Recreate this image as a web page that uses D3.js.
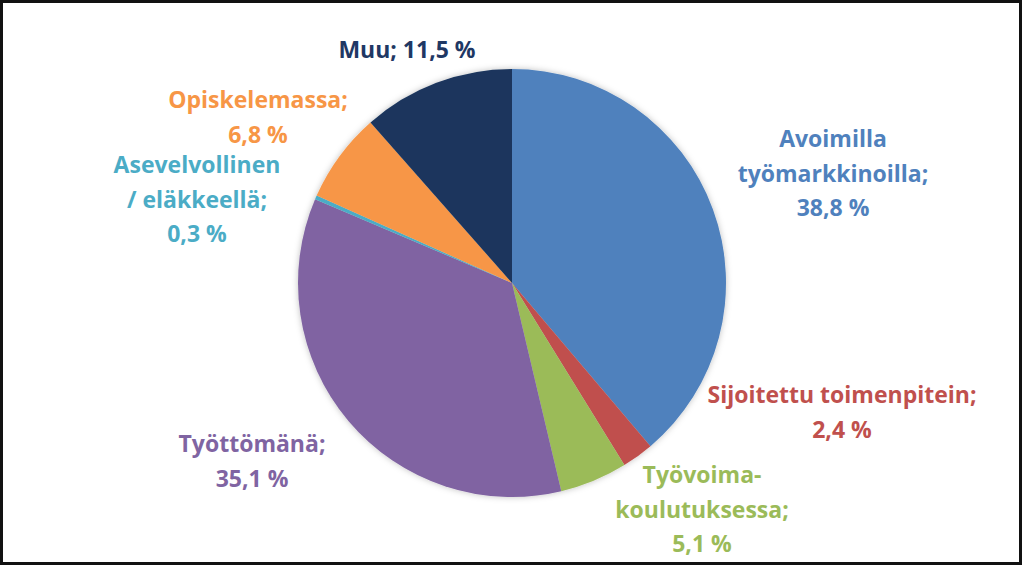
<!DOCTYPE html>
<html>
<head>
<meta charset="utf-8">
<script src="https://cdn.jsdelivr.net/npm/d3@7"></script>
<style>
  html, body { margin: 0; padding: 0; background: #fff; }
  svg { display: block; }
</style>
</head>
<body>
<div id="chart"></div>
<script>
// Pie chart of situation shares, drawn clockwise from 12 o'clock.

var categories = ["Avoimilla työmarkkinoilla", "Sijoitettu toimenpitein", "Työvoimakoulutuksessa",
	"Työttömänä", "Asevelvollinen / eläkkeellä", "Opiskelemassa", "Muu"];
var values = [38.8, 2.4, 5.1, 35.1, 0.3, 6.8, 11.5];
// Label text broken into lines as in the original.
var labelLines = [
	["Avoimilla", "työmarkkinoilla;", "38,8 %"],
	["Sijoitettu toimenpitein;", "2,4 %"],
	["Työvoima-", "koulutuksessa;", "5,1 %"],
	["Työttömänä;", "35,1 %"],
	["Asevelvollinen", "/ eläkkeellä;", "0,3 %"],
	["Opiskelemassa;", "6,8 %"],
	["Muu; 11,5 %"]
];
var sliceColors = ["#4f81bd", "#c0504d", "#9bbb59", "#8064a2", "#4bacc6", "#f79646", "#1b365d"];
var textColors  = ["#4f81bd", "#c0504d", "#9bbb59", "#8064a2", "#4bacc6", "#f79646", "#1f3864"];

var width = 1024, height = 566;
var cx = 512, cy = 283, radius = 214;
var lineH = 34.5;
// Where each label block's first baseline sits (placed by hand, like Excel's moved labels).
var labelAnchor = [[833, 147], [842, 403], [702, 483], [252, 452], [197, 173], [258, 108], [407, 58]];

var svg = d3.select("#chart").append("svg")
	.attr("width", width).attr("height", height);

var defs = svg.append("defs");
var shadow = defs.append("filter").attr("id", "soft").attr("x", "-10%").attr("y", "-10%")
	.attr("width", "120%").attr("height", "120%");
shadow.append("feDropShadow").attr("dx", 0).attr("dy", 0).attr("stdDeviation", 3)
	.attr("flood-color", "#000").attr("flood-opacity", 0.25);

var pie = d3.pie().sort(null).value(function (d) {return d;});
var arc = d3.arc().innerRadius(0).outerRadius(radius);

var gPie = svg.append("g").attr("transform", "translate(" + cx + "," + cy + ")")
	.attr("filter", "url(#soft)");
gPie.selectAll("path")
	.data(pie(values))
	.enter().append("path")
	.attr("d", arc)
	.attr("fill", function (d, i) {return sliceColors[i];})
	.append("title").text(function (d, i) {return categories[i];});

var gLab = svg.append("g")
	.style("font-family", "'Open Sans', Lato, sans-serif")
	.style("font-weight", "bold")
	.style("font-size", "23px")
	.attr("text-anchor", "middle");

labelLines.forEach(function (lines, i)
{
	var t = gLab.append("text")
		.attr("x", labelAnchor[i][0]).attr("y", labelAnchor[i][1])
		.attr("fill", textColors[i]);
	lines.forEach(function (s, j)
	{
		t.append("tspan").attr("x", labelAnchor[i][0]).attr("dy", j ? lineH : 0).text(s);
	});
});

// Frame round the picture.
svg.append("rect")
	.attr("x", 1.5).attr("y", 1.5).attr("width", 1019).attr("height", 562)
	.attr("fill", "none").attr("stroke", "#111").attr("stroke-width", 3);
</script>
</body>
</html>
